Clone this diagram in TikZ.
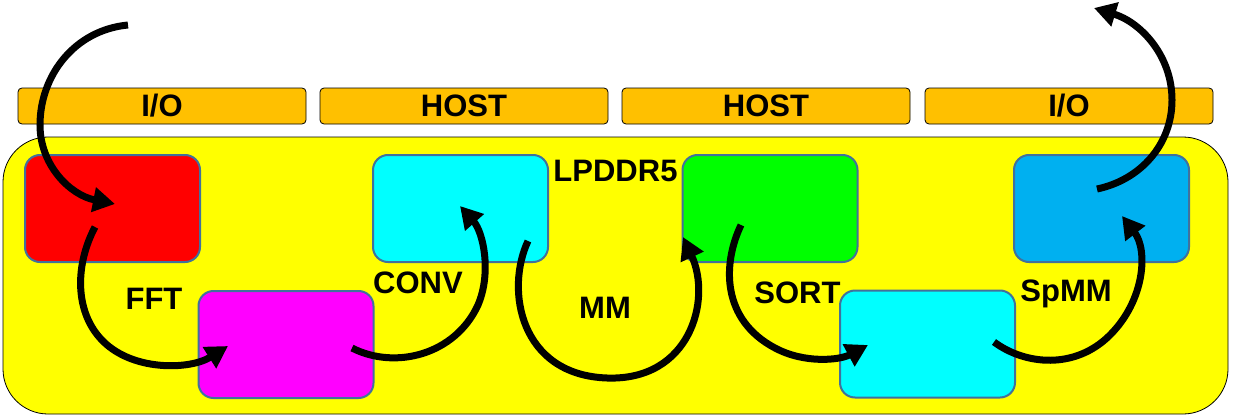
\documentclass[tikz,border=0pt]{standalone}
\usepackage{fontspec}
\setmainfont{Liberation Sans}
\usetikzlibrary{arrows.meta,calc}
\definecolor{edgeblue}{HTML}{41719C}
\definecolor{chipyellow}{HTML}{FFFF00}
\definecolor{portorange}{HTML}{FFC000}
\definecolor{bankred}{HTML}{FF0000}
\definecolor{bankpink}{HTML}{FF00FF}
\definecolor{bankcyan}{HTML}{00FFFF}
\definecolor{bankgreen}{HTML}{00FF00}
\definecolor{bankblue}{HTML}{00B0F0}
\begin{document}
\begin{tikzpicture}[x=1pt,y=-1pt,
  bank/.style={draw=edgeblue,line width=2pt,rounded corners=15pt,minimum width=175pt,minimum height=107pt,inner sep=0pt},
  portbar/.style={draw=black,line width=0.8pt,fill=portorange,rounded corners=4pt,minimum width=288pt,minimum height=36pt,inner sep=0pt,font=\fontsize{31}{37}\selectfont\bfseries},
  lbl/.style={anchor=base,inner sep=0pt,font=\fontsize{31}{37}\selectfont\bfseries},
  flow/.style={line width=7pt,-{Triangle[length=22pt,width=24pt]}}]
\useasboundingbox (0,0) rectangle (1234,420);

% chip
\draw[fill=chipyellow,line width=0.8pt,rounded corners=45pt] (3,137) rectangle (1228,414);

% ports
\node[portbar] (io1) at (162,106) {I/O};
\node[portbar] (host1) at (464,106) {HOST};
\node[portbar] (host2) at (766,106) {HOST};
\node[portbar] (io2) at (1069,106) {I/O};

% banks
\node[bank,fill=bankred] (box1) at (112.5,208.5) {};
\node[bank,fill=bankpink] (box2) at (286,344.5) {};
\node[bank,fill=bankcyan] (box3) at (460.5,208.5) {};
\node[bank,fill=bankgreen] (box4) at (770,208.5) {};
\node[bank,fill=bankcyan] (box5) at (927.5,344) {};
\node[bank,fill=bankblue] (box6) at (1101.5,208.5) {};

\node[lbl] (lpddr) at (615.5,181) {LPDDR5};
\node[lbl] (fft) at (154,309) {FFT};
\node[lbl] (conv) at (418,293) {CONV};
\node[lbl] (mm) at (605,318) {MM};
\node[lbl] (sort) at (797.5,303) {SORT};
\node[lbl] (spmm) at (1066,301) {SpMM};

% data flow
\coordinate (src) at (128,25);
\coordinate (dst) at (1094,8);
\draw[flow] (src) .. controls (75,30) and (40,75) .. (40,125) .. controls (40,165) and (70,195) .. ($(box1)+(2.5,-4.5)$);
\draw[flow] ($(box1)+(-17.5,18.5)$) .. controls (75,265) and (75,310) .. (100,338) .. controls (130,372) and (190,370) .. ($(box2)+(-58,1.5)$);
\draw[flow] ($(box2)+(66,3.5)$) .. controls (395,370) and (455,355) .. (478,305) .. controls (492,272) and (483,232) .. ($(box3)+(-0.5,-2.5)$);
\draw[flow] ($(box3)+(67.5,32.5)$) .. controls (505,290) and (520,375) .. (607,378) .. controls (690,381) and (712,300) .. ($(box4)+(-87,28.5)$);
\draw[flow] ($(box4)+(-29,16.5)$) .. controls (722,265) and (722,320) .. (775,348) .. controls (805,364) and (840,360) .. ($(box5)+(-59.5,1)$);
\draw[flow] ($(box5)+(66.5,-2)$) .. controls (1025,365) and (1075,370) .. (1110,335) .. controls (1145,300) and (1148,250) .. ($(box6)+(20.5,7.5)$);
\draw[flow] ($(box6)+(-4.5,-19.5)$) .. controls (1140,180) and (1172,145) .. (1172,100) .. controls (1172,55) and (1140,22) .. (dst);
\end{tikzpicture}
\end{document}
